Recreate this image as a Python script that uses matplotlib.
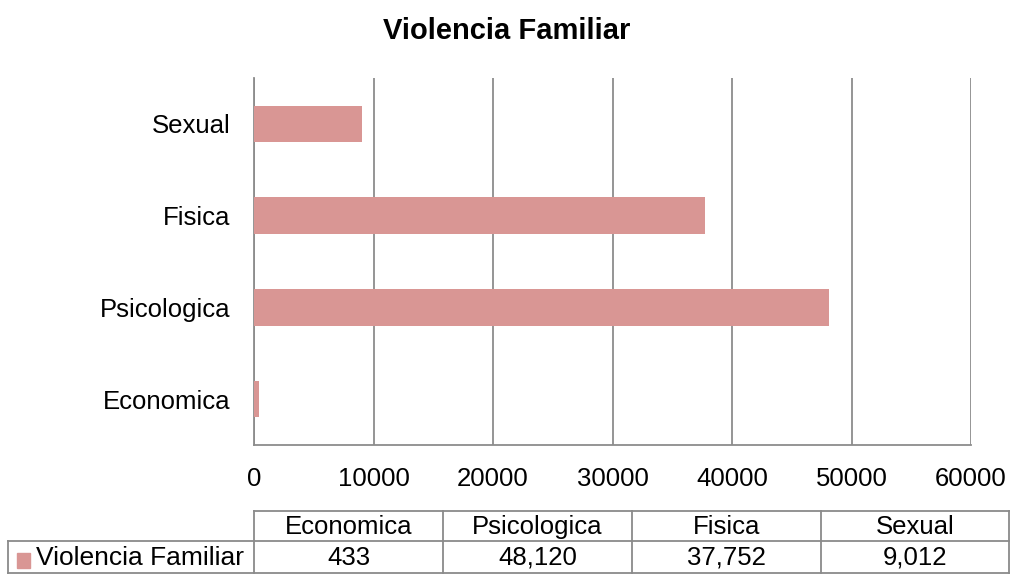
import matplotlib
matplotlib.use("Agg")
import matplotlib.pyplot as plt
from matplotlib.lines import Line2D
from matplotlib.patches import Rectangle

plt.rcParams['font.family'] = ['Liberation Sans', 'DejaVu Sans']

title = "Violencia Familiar"
series_name = "Violencia Familiar"
categories = ["Economica", "Psicologica", "Fisica", "Sexual"]
values = [433, 48120, 37752, 9012]
value_labels = ["433", "48,120", "37,752", "9,012"]
xticks = [0, 10000, 20000, 30000, 40000, 50000, 60000]

W, H = 1010, 574
bar_color = "#D99694"
grid_color = "#8C8C8C"

fig = plt.figure(figsize=(W / 100, H / 100), dpi=100)

def fx(px):
    return px / W

def fy(py):
    return 1 - py / H

ax = fig.add_axes([fx(254), fy(445), fx(971) - fx(254), fy(78) - fy(445)])
ypos = list(range(len(categories)))
ax.barh(ypos, values, height=0.4, color=bar_color, zorder=3)
ax.set_xlim(0, 60000)
ax.set_ylim(-0.5, len(categories) - 0.5)
ax.set_xticks(xticks)
ax.set_xticklabels([str(t) for t in xticks], fontsize=18.5)
ax.set_yticks(ypos)
ax.set_yticklabels(categories, fontsize=18.5)
ax.tick_params(axis='both', length=0)
ax.tick_params(axis='x', pad=16)
ax.tick_params(axis='y', pad=17)
ax.grid(axis='x', color=grid_color, linewidth=1.3, zorder=0)
for s in ['top', 'right']:
    ax.spines[s].set_visible(False)
for s in ['left', 'bottom']:
    ax.spines[s].set_color(grid_color)
    ax.spines[s].set_linewidth(1.3)

fig.text(fx(507), fy(31), title, ha='center', va='center', fontsize=21,
         fontweight='bold')

# Data table
col_edges = [254, 443, 632, 821, 1009]
row_top, row_mid, row_bot = 511, 541, 573
left_edge = 8
lc = "#8A8A8A"
lw = 1.3

def hline(x0, x1, y):
    fig.add_artist(Line2D([fx(x0), fx(x1)], [fy(y), fy(y)], color=lc, lw=lw))

def vline(x, y0, y1):
    fig.add_artist(Line2D([fx(x), fx(x)], [fy(y0), fy(y1)], color=lc, lw=lw))

hline(col_edges[0], col_edges[-1], row_top)
hline(left_edge, col_edges[-1], row_mid)
hline(left_edge, col_edges[-1], row_bot)
vline(left_edge, row_mid, row_bot)
for x in col_edges:
    vline(x, row_top, row_bot)

for i, (cat, lab) in enumerate(zip(categories, value_labels)):
    cx = (col_edges[i] + col_edges[i + 1]) / 2
    fig.text(fx(cx), fy((row_top + row_mid) / 2 + 1), cat, ha='center', va='center',
             fontsize=18.5)
    fig.text(fx(cx), fy((row_mid + row_bot) / 2 + 1), lab, ha='center', va='center',
             fontsize=18.5)

fig.add_artist(Rectangle((fx(17), fy(568)), fx(13), fy(553) - fy(568),
                         color=bar_color, transform=fig.transFigure))
fig.text(fx(36), fy((row_mid + row_bot) / 2 + 1), series_name, ha='left', va='center',
         fontsize=19)

fig.savefig("out.png", dpi=100)
